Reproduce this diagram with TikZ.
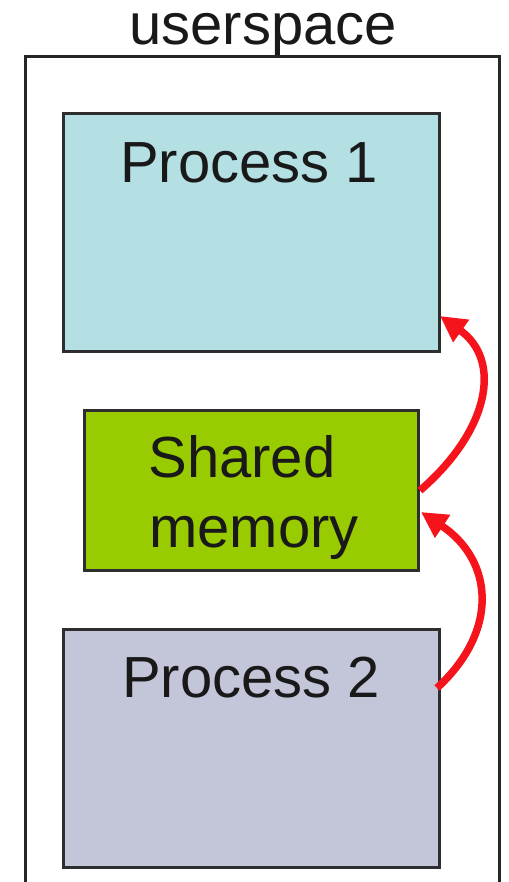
\documentclass[tikz,border=0pt]{standalone}
\usepackage{fontspec}
\setmainfont{Liberation Sans}
\usetikzlibrary{arrows.meta}
\definecolor{procone}{HTML}{B4E0E4}
\definecolor{shmem}{HTML}{99CC00}
\definecolor{proctwo}{HTML}{C3C5D9}
\definecolor{edgegray}{HTML}{2E2E2E}
\definecolor{arrred}{HTML}{F5141C}
\tikzset{
  box/.style={draw=edgegray, line width=3pt, rectangle, inner sep=0pt, anchor=north west},
  lbl/.style={font=\fontsize{58}{70}\selectfont, inner sep=0pt, anchor=base, text=black!90},
  flow/.style={draw=arrred, line width=7.5pt, -{Triangle[length=26pt,width=26pt]}}
}
\begin{document}
\begin{tikzpicture}[x=1pt,y=-1pt]
\useasboundingbox (0,0) rectangle (508,882);
\clip (0,0) rectangle (508,882);
\node[lbl] (title) at (263,45) {userspace};
\node[box, draw=black!85, minimum width=474pt, minimum height=860pt] (outer) at (24,55) {};
\node[box, fill=procone, minimum width=376pt, minimum height=238pt] (p1) at (62,112) {};
\node[box, fill=shmem, minimum width=334pt, minimum height=160pt] (sm) at (83,409) {};
\node[box, fill=proctwo, minimum width=376pt, minimum height=238pt] (p2) at (62,628) {};
\node[lbl] (p1t) at (249,183) {Process 1};
\node[lbl] (smt1) at (242,477) {Shared};
\node[lbl] (smt2) at (254,547) {memory};
\node[lbl] (p2t) at (251,697) {Process 2};
\coordinate (t1) at (440,316);
\coordinate (s2) at (437,688);
\coordinate (t2) at (421,512);
\draw[flow] (sm.east) .. controls (490,430) and (502,360) .. (t1);
\draw[flow] (s2) .. controls (500,630) and (493,560) .. (t2);
\end{tikzpicture}
\end{document}
